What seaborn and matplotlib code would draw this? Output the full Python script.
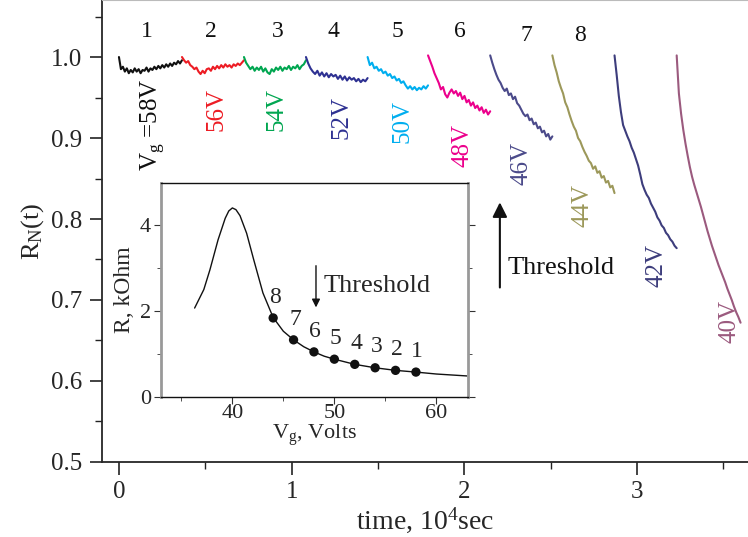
import numpy as np
import seaborn as sns
import matplotlib.pyplot as plt
from matplotlib.ticker import MultipleLocator

sns.set_style('ticks')
plt.rcParams['font.family'] = ['Liberation Serif', 'DejaVu Serif']
plt.rcParams['mathtext.fontset'] = 'custom'
plt.rcParams['mathtext.rm'] = 'Liberation Serif'
plt.rcParams['mathtext.it'] = 'Liberation Serif:italic'

# relaxation traces, one per gate voltage (time in 1e4 s)
voltages = ['58V', '56V', '54V', '52V', '50V', '48V', '46V', '44V', '42V', '40V']
t_start = [0.0, 0.365, 0.724, 1.083, 1.44, 1.79, 2.15, 2.51, 2.87, 3.23]
t_end = [0.365, 0.724, 1.083, 1.44, 1.79, 2.15, 2.51, 2.87, 3.23, 3.60]
colors = ['#111111', '#ed1c24', '#00a650', '#2e3192', '#00aeef', '#ec008c',
          '#4b4a8a', '#9c985a', '#3d3d7c', '#9b5a7e']

r58 = [1.000, 0.985, 0.988, 0.982, 0.986, 0.980, 0.984, 0.981, 0.986, 0.982, 0.985,
       0.980, 0.984, 0.983, 0.987, 0.982, 0.986, 0.984, 0.988, 0.985, 0.989, 0.986,
       0.990, 0.987, 0.991, 0.988, 0.992, 0.989, 0.993, 0.991, 0.995, 0.992, 0.996]
r56 = [1.000, 0.996, 0.993, 0.995, 0.990, 0.988, 0.985, 0.987, 0.982, 0.979, 0.983,
       0.980, 0.985, 0.986, 0.983, 0.988, 0.985, 0.989, 0.986, 0.990, 0.987, 0.991,
       0.988, 0.990, 0.987, 0.991, 0.989, 0.992, 0.990, 0.993, 0.996]
r54 = [1.000, 0.993, 0.989, 0.985, 0.988, 0.983, 0.987, 0.984, 0.988, 0.982, 0.986,
       0.981, 0.979, 0.985, 0.982, 0.987, 0.984, 0.988, 0.983, 0.987, 0.985, 0.989,
       0.984, 0.988, 0.986, 0.990, 0.985, 0.989, 0.991, 0.996]
r52 = [1.000, 0.992, 0.986, 0.982, 0.979, 0.983, 0.977, 0.981, 0.976, 0.980, 0.975,
       0.979, 0.976, 0.978, 0.973, 0.977, 0.972, 0.976, 0.971, 0.975, 0.972, 0.974,
       0.970, 0.973, 0.969, 0.972, 0.970, 0.974]
r50 = [1.000, 0.990, 0.993, 0.986, 0.988, 0.983, 0.985, 0.980, 0.982, 0.977, 0.979,
       0.974, 0.976, 0.971, 0.973, 0.968, 0.970, 0.965, 0.961, 0.964, 0.960, 0.963,
       0.959, 0.962, 0.960, 0.964, 0.961, 0.965]
r48 = [1.002, 0.995, 0.988, 0.980, 0.974, 0.968, 0.960, 0.963, 0.954, 0.950, 0.956,
       0.960, 0.955, 0.958, 0.952, 0.956, 0.948, 0.952, 0.944, 0.947, 0.940, 0.944,
       0.937, 0.940, 0.934, 0.938, 0.931, 0.935, 0.929, 0.933]
r46 = [1.002, 0.993, 0.985, 0.978, 0.972, 0.968, 0.962, 0.958, 0.961, 0.953, 0.955,
       0.948, 0.951, 0.943, 0.940, 0.935, 0.930, 0.927, 0.929, 0.922, 0.924, 0.917,
       0.919, 0.912, 0.914, 0.907, 0.909, 0.902, 0.905, 0.898, 0.902]
r44 = [1.002, 0.990, 0.981, 0.970, 0.962, 0.955, 0.944, 0.938, 0.929, 0.921, 0.914,
       0.909, 0.900, 0.896, 0.889, 0.883, 0.878, 0.872, 0.869, 0.862, 0.865, 0.857,
       0.859, 0.851, 0.853, 0.845, 0.847, 0.839, 0.841, 0.832]
r42 = [1.002, 0.978, 0.952, 0.932, 0.916, 0.909, 0.902, 0.896, 0.888, 0.882, 0.874,
       0.866, 0.855, 0.843, 0.836, 0.830, 0.826, 0.819, 0.814, 0.809, 0.802, 0.798,
       0.792, 0.789, 0.783, 0.780, 0.775, 0.772, 0.767, 0.764]
r40 = [1.002, 0.955, 0.930, 0.910, 0.893, 0.878, 0.864, 0.852, 0.842, 0.833, 0.824,
       0.815, 0.805, 0.795, 0.785, 0.776, 0.767, 0.759, 0.751, 0.743, 0.736, 0.729,
       0.722, 0.714, 0.707, 0.700, 0.692, 0.685, 0.679, 0.672]
traces = [r58, r56, r54, r52, r50, r48, r46, r44, r42, r40]

# inset: R vs gate voltage
vg_curve = [36.3, 37.2, 37.8, 38.6, 39.3, 39.65, 40.0, 40.35, 40.75, 41.4, 42.1, 43.0,
            44.0, 45.0, 46.0, 47.0, 48.0, 49.0, 50.0, 52.0, 54.0, 56.0, 58.0, 60.0, 63.0]
r_curve = [2.07, 2.50, 2.96, 3.66, 4.16, 4.33, 4.40, 4.36, 4.22, 3.81, 3.19, 2.42,
           1.85, 1.53, 1.33, 1.17, 1.05, 0.95, 0.88, 0.76, 0.68, 0.62, 0.58, 0.535, 0.49]
vg_pts = [44, 46, 48, 50, 52, 54, 56, 58]
r_pts = [1.84, 1.33, 1.05, 0.88, 0.76, 0.68, 0.62, 0.58]
pt_labels = ['8', '7', '6', '5', '4', '3', '2', '1']

fig = plt.figure(figsize=(7.48, 5.37), dpi=100)
ax = fig.add_axes([0.1364, 0.1397, 0.8636, 0.8603])

for r, t0, t1, c in zip(traces, t_start, t_end, colors):
    t = np.linspace(t0, t1, len(r))
    sns.lineplot(x=t, y=r, color=c, linewidth=1.5, ax=ax)

ax.set_xlim(-0.098, 3.643)
ax.set_ylim(0.5, 1.0704)
ax.xaxis.set_major_locator(MultipleLocator(1))
ax.xaxis.set_minor_locator(MultipleLocator(0.5))
ax.yaxis.set_major_locator(MultipleLocator(0.1))
ax.yaxis.set_minor_locator(MultipleLocator(0.05))
ax.yaxis.set_major_formatter(plt.FormatStrFormatter('%.1f'))
ax.tick_params(which='major', length=9, width=1.2, labelsize=18, pad=5, color='#222222')
ax.tick_params(which='minor', length=5, width=1.0, color='#222222')
ax.spines['right'].set_visible(False)
ax.spines['top'].set_color('#bbbbbb')
ax.spines['left'].set_linewidth(1.3)
ax.spines['bottom'].set_linewidth(1.3)
ax.set_xlabel('time, 10$^4$sec', fontsize=20, labelpad=1)
ax.set_ylabel('R$_\\mathrm{N}$(t)', fontsize=19, labelpad=4)

# trace numbers along the top
num_pos = [(0.162, 1.031), (0.533, 1.031), (0.921, 1.031), (1.24, 1.031),
           (1.61, 1.031), (1.975, 1.031), (2.362, 1.027), (2.669, 1.027)]
for i, (tx, ty) in enumerate(num_pos):
    ax.text(tx, ty, str(i + 1), fontsize=17, ha='center', va='center', color='#111111')

# rotated voltage labels
volt_pos = [(0.197, 0.917), (0.567, 0.935), (0.915, 0.935), (1.291, 0.925), (1.644, 0.920),
            (1.992, 0.891), (2.334, 0.869), (2.687, 0.817), (3.115, 0.743), (3.533, 0.673)]
for i, (v, (tx, ty), c) in enumerate(zip(voltages, volt_pos, colors)):
    s = 'V$_\\mathrm{g}$ =' + v if i == 0 else v
    ax.text(tx, ty, s, fontsize=18, rotation=90, ha='center', va='center', color=c)

ax.annotate('', xy=(2.206, 0.824), xytext=(2.206, 0.712),
            arrowprops=dict(arrowstyle='-|>', color='#111111', lw=1.5, mutation_scale=22))
ax.text(2.252, 0.740, 'Threshold', fontsize=19, ha='left', va='center', color='#111111')

# inset
ax_in = fig.add_axes([0.2152, 0.2607, 0.4104, 0.3985])
sns.lineplot(x=vg_curve, y=r_curve, color='#111111', linewidth=1.0, ax=ax_in, sort=False)
sns.scatterplot(x=vg_pts, y=r_pts, color='#111111', s=45, edgecolor='none', ax=ax_in, zorder=3)
for vx, vy, lab in zip(vg_pts, r_pts, pt_labels):
    ax_in.annotate(lab, (vx, vy), xytext=(1, 15), textcoords='offset points',
                   fontsize=17, ha='center', va='center')
ax_in.annotate('', xy=(48.2, 2.02), xytext=(48.2, 3.12),
               arrowprops=dict(arrowstyle='-|>', color='#111111', lw=1.0, mutation_scale=12))
ax_in.text(48.9, 2.58, 'Threshold', fontsize=19, ha='left', va='center')

ax_in.set_xlim(33, 63.1)
ax_in.set_ylim(0, 4.98)
ax_in.xaxis.set_major_locator(MultipleLocator(10))
ax_in.xaxis.set_minor_locator(MultipleLocator(5))
ax_in.yaxis.set_major_locator(MultipleLocator(2))
ax_in.yaxis.set_minor_locator(MultipleLocator(1))
ax_in.tick_params(which='major', length=5, labelsize=16, pad=0, right=True, color='#333333')
ax_in.tick_params(which='minor', length=3, right=True, color='#333333')
ax_in.tick_params(axis='y', which='both', direction='out', pad=2)
for sp in ['left', 'right']:
    ax_in.spines[sp].set_color('#999999')
    ax_in.spines[sp].set_linewidth(2.0)
for sp in ['top', 'bottom']:
    ax_in.spines[sp].set_color('#111111')
    ax_in.spines[sp].set_linewidth(1.0)
ax_in.set_xlabel('V$_\\mathrm{g}$, Volts', fontsize=16, labelpad=0)
ax_in.set_ylabel('R, kOhm', fontsize=17, labelpad=4)

fig.savefig('out.png', dpi=100)
